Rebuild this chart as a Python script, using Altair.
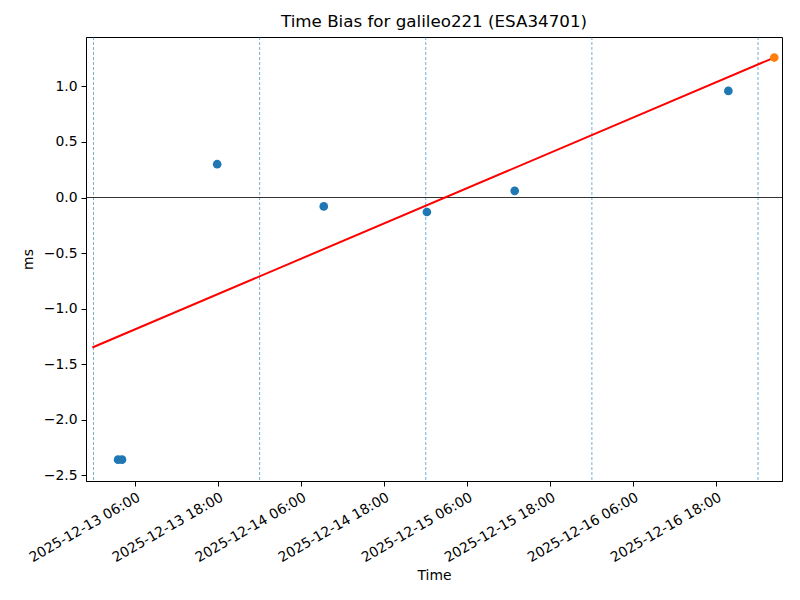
import altair as alt
import pandas as pd

# Blue observation points
obs_times = [
    "2025-12-13T03:33:00Z", "2025-12-13T04:07:00Z", "2025-12-13T17:52:00Z",
    "2025-12-14T09:16:00Z", "2025-12-15T00:10:00Z", "2025-12-15T12:51:00Z",
    "2025-12-16T19:43:00Z",
]
obs_values = [-2.36, -2.36, 0.30, -0.08, -0.13, 0.06, 0.96]

# Orange (latest) point
last_times = ["2025-12-17T02:21:00Z"]
last_values = [1.26]

# Red fit line endpoints
fit_times = ["2025-12-12T23:50:00Z", "2025-12-17T02:21:00Z"]
fit_values = [-1.35, 1.26]

# Day boundaries (dashed lines)
midnights = [
    "2025-12-13T00:00:00Z", "2025-12-14T00:00:00Z", "2025-12-15T00:00:00Z",
    "2025-12-16T00:00:00Z", "2025-12-17T00:00:00Z",
]

# Axis tick values
x_ticks = [
    (13, 6), (13, 18), (14, 6), (14, 18), (15, 6), (15, 18), (16, 6), (16, 18),
]
y_ticks = [-2.5, -2.0, -1.5, -1.0, -0.5, 0.0, 0.5, 1.0]

FONT = "DejaVu Sans"

obs_df = pd.DataFrame({"t": obs_times, "v": obs_values})
last_df = pd.DataFrame({"t": last_times, "v": last_values})
fit_df = pd.DataFrame({"t": fit_times, "v": fit_values})
mid_df = pd.DataFrame({"t": midnights})
zero_df = pd.DataFrame({"v": [0.0]})

x_scale = alt.Scale(
    type="utc",
    domain=[
        alt.DateTime(year=2025, month=12, date=12, hours=22, minutes=55, utc=True),
        alt.DateTime(year=2025, month=12, date=17, hours=3, minutes=28, utc=True),
    ],
    nice=False,
)
y_scale = alt.Scale(domain=[-2.552, 1.445], nice=False, zero=False)

x_axis = alt.Axis(
    values=[alt.DateTime(year=2025, month=12, date=d, hours=h, utc=True) for d, h in x_ticks],
    labelExpr="utcFormat(datum.value, '%Y-%m-%d %H:%M')",
    labelAngle=330,
    labelAlign="right",
    labelBaseline="top",
    labelPadding=4,
    tickSize=5,
    tickColor="black",
    domainColor="black",
    labelColor="black",
    labelFont=FONT,
    labelFontSize=13.9,
    labelOverlap=False,
    labelBound=False,
    labelFlush=False,
    grid=False,
    title="Time",
    titleFont=FONT,
    titleFontSize=13.9,
    titleFontWeight="normal",
    titleColor="black",
    titlePadding=4,
)
y_axis = alt.Axis(
    values=y_ticks,
    format=".1f",
    tickSize=5,
    tickColor="black",
    domainColor="black",
    labelColor="black",
    labelFont=FONT,
    labelFontSize=13.9,
    labelPadding=4,
    grid=False,
    title="ms",
    titleFont=FONT,
    titleFontSize=13.9,
    titleFontWeight="normal",
    titleColor="black",
    titlePadding=8,
)

X = alt.X("t:T", scale=x_scale, axis=x_axis)
Y = alt.Y("v:Q", scale=y_scale, axis=y_axis)

mid_rules = alt.Chart(mid_df).mark_rule(
    color="#1f77b4", opacity=0.75, strokeWidth=0.8, strokeDash=[3, 2]
).encode(x=X)

zero_rule = alt.Chart(zero_df).mark_rule(color="black", strokeWidth=0.8).encode(y=Y)

fit_line = alt.Chart(fit_df).mark_line(color="#ff0000", strokeWidth=2).encode(x=X, y=Y)

obs_pts = alt.Chart(obs_df).mark_circle(color="#1f77b4", size=75, opacity=1).encode(x=X, y=Y)

last_pt = alt.Chart(last_df).mark_circle(color="#ff7f0e", size=75, opacity=1).encode(x=X, y=Y)

chart = alt.layer(mid_rules, zero_rule, fit_line, obs_pts, last_pt).properties(
    width=696,
    height=444,
    title=alt.TitleParams(
        "Time Bias for galileo221 (ESA34701)",
        font=FONT,
        fontSize=16.7,
        fontWeight="normal",
        color="black",
        offset=6,
    ),
    autosize=alt.AutoSizeParams(type="none"),
    padding={"left": 78, "top": 29, "right": 10, "bottom": 105},
).configure(background="white").configure_view(stroke="black", strokeWidth=1)

chart.save("out.html", embed_options={"renderer": "svg", "actions": False})
